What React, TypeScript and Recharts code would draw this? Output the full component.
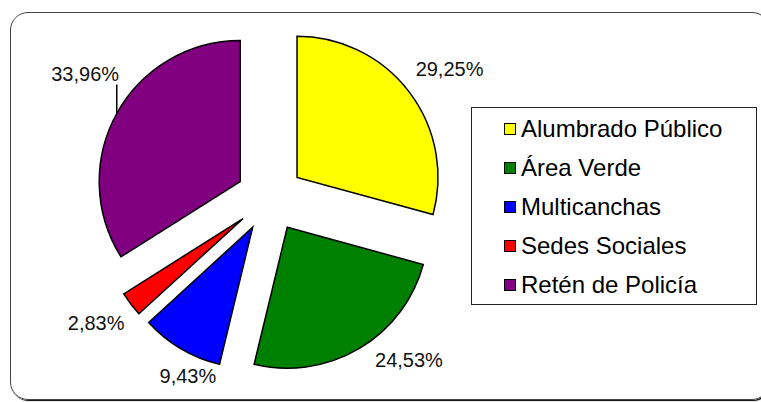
import React from 'react'
import { PieChart, Pie, Cell, Sector, Legend } from 'recharts'

const categories = ['Alumbrado Público', 'Área Verde', 'Multicanchas', 'Sedes Sociales', 'Retén de Policía']
const percentages = [29.25, 24.53, 9.43, 2.83, 33.96]
const sliceColors = ['#FFFF00', '#008000', '#0000FF', '#FF0000', '#800080']

const data = categories.map((name, i) => ({ name, value: percentages[i] }))

const RAD = Math.PI / 180
const EXPLODE = 34
const FONT = '"Liberation Sans", Arial, sans-serif'

// Excel "best fit" nudged some labels off the bisector (ccw degrees, px past rim)
const labelFit = [
  { angle: -2, gap: 46, leader: false },
  { angle: 12, gap: 39, leader: false },
  { angle: 7, gap: 21, leader: false },
  { angle: -2, gap: 39, leader: false },
  { angle: -6, gap: 48, leader: true },
]

const fmtPct = (v: number) => `${v.toFixed(2).replace('.', ',')}%`

function explodedSlice(props: any) {
  const { cx, cy, midAngle } = props
  const dx = EXPLODE * Math.cos(-midAngle * RAD)
  const dy = EXPLODE * Math.sin(-midAngle * RAD)
  return <Sector {...props} cx={cx + dx} cy={cy + dy} />
}

function renderLabel(props: any) {
  const { cx, cy, midAngle, outerRadius, index, value } = props
  const ex = cx + EXPLODE * Math.cos(-midAngle * RAD)
  const ey = cy + EXPLODE * Math.sin(-midAngle * RAD)
  const fit = labelFit[index]
  const a = (midAngle + fit.angle) * RAD
  const r = outerRadius + fit.gap
  const x = ex + r * Math.cos(-a)
  const y = ey + r * Math.sin(-a)

  let leader = null
  if (fit.leader) {
    const px = ex + outerRadius * Math.cos(-midAngle * RAD)
    const py = ey + outerRadius * Math.sin(-midAngle * RAD)
    leader = <line x1={px} y1={py} x2={px} y2={y + 11} stroke="#000" strokeWidth={1.5} />
  }

  return (
    <g>
      {leader}
      <text
        x={x}
        y={y}
        textAnchor="middle"
        dominantBaseline="central"
        fill="#111"
        fontFamily={FONT}
        fontSize={20}
      >
        {fmtPct(value)}
      </text>
    </g>
  )
}

// keep the legend in slice order (recharts sorts the payload by name otherwise)
function LegendBox() {
  return (
    <div
      style={{
        width: 286,
        height: 198,
        boxSizing: 'border-box',
        border: '1px solid #222',
        paddingTop: 1,
        paddingLeft: 32,
        fontFamily: FONT,
        fontSize: 24,
        color: '#000',
        background: '#fff',
      }}
    >
      {categories.map((name, i) => (
        <div key={name} style={{ display: 'flex', alignItems: 'center', height: 39.2 }}>
          <span
            style={{
              display: 'inline-block',
              width: 12,
              height: 12,
              boxSizing: 'border-box',
              border: '1.5px solid #000',
              background: sliceColors[i],
              marginRight: 5,
            }}
          />
          <span>{name}</span>
        </div>
      ))}
    </div>
  )
}

export default function App() {
  return (
    <div style={{ position: 'absolute', left: 0, top: 0, width: 761, height: 402, overflow: 'hidden', background: '#fff' }}>
      <div
        style={{
          position: 'absolute',
          left: 10,
          top: 12,
          width: 760,
          height: 388,
          boxSizing: 'border-box',
          border: '1.5px solid #444',
          borderRadius: 18,
          boxShadow: '1px 1px 1px #000',
        }}
      />
      <div style={{ position: 'absolute', left: 0, top: 0 }}>
        <PieChart width={761} height={402} margin={{ top: 0, right: 0, bottom: 0, left: 0 }}>
          <Pie
            data={data}
            dataKey="value"
            nameKey="name"
            cx={270}
            cy={198}
            outerRadius={141}
            startAngle={90}
            endAngle={-270}
            stroke="#000"
            strokeWidth={1.5}
            shape={explodedSlice}
            activeShape={explodedSlice}
            inactiveShape={explodedSlice}
            label={renderLabel}
            labelLine={false}
            isAnimationActive={false}
          >
            {data.map((d, i) => (
              <Cell key={d.name} fill={sliceColors[i]} />
            ))}
          </Pie>
          <Legend
            content={LegendBox}
            wrapperStyle={{ position: 'absolute', left: 471, top: 107, width: 286, height: 198 }}
          />
        </PieChart>
      </div>
    </div>
  )
}
